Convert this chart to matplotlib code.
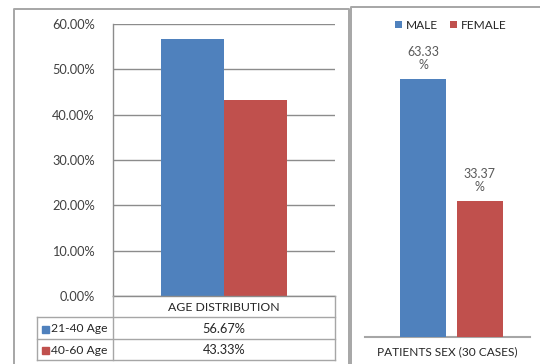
import matplotlib
matplotlib.use("Agg")
import matplotlib.pyplot as plt
from matplotlib.patches import Rectangle
from matplotlib.lines import Line2D
from matplotlib.ticker import FuncFormatter

plt.rcParams['font.family'] = ['Lato', 'DejaVu Sans']

# Age distribution data
age_groups = ["21-40 Age", "40-60 Age"]
age_values = [56.67, 43.33]
age_category = "AGE DISTRIBUTION"
age_ticks = [0, 10, 20, 30, 40, 50, 60]

# Patient sex data
sex_labels = ["MALE", "FEMALE"]
sex_values = [63.33, 33.37]
sex_category = "PATIENTS SEX (30 CASES)"

colors = ["#4F81BD", "#C0504D"]
text_col = "#404040"
grid_col = "#8C8C8C"
frame_col = "#A0A0A0"

W, H = 540, 364
fig = plt.figure(figsize=(W / 100, H / 100), dpi=100)


def fx(px):
    return px / W


def fy(py):
    return 1 - py / H


def box(x0, y0, x1, y1):
    return [fx(x0), fy(y1), fx(x1) - fx(x0), fy(y0) - fy(y1)]


def fig_line(xs, ys, color=frame_col, lw=1.0):
    fig.add_artist(Line2D([fx(x) for x in xs], [fy(y) for y in ys],
                          color=color, lw=lw, transform=fig.transFigure))


# Panel frames
fig_line([14, 14, 349, 349], [364, 9, 9, 364], color="#A6A6A6", lw=1.4)
fig_line([351, 351, 540], [364, 7, 7], color="#A6A6A6", lw=1.4)

# ---------------- Left chart: age distribution ----------------
ax1 = fig.add_axes(box(113, 24, 335, 296))
bw = 0.284
offs = [-bw / 2, bw / 2]
for v, c, o in zip(age_values, colors, offs):
    ax1.bar(o, v, width=bw, color=c, zorder=3)
ax1.set_xlim(-0.5, 0.5)
ax1.set_ylim(0, 60)
ax1.set_yticks(age_ticks)
ax1.yaxis.set_major_formatter(FuncFormatter(lambda v, p: f"{v:.2f}%"))
ax1.tick_params(axis='y', length=0, pad=13, labelsize=9.2, labelcolor=text_col)
ax1.set_xticks([])
ax1.grid(axis='y', color=grid_col, lw=1.0, zorder=0)
for s in ["top", "right", "bottom"]:
    ax1.spines[s].set_visible(False)
ax1.spines["left"].set_color(grid_col)
ax1.spines["left"].set_linewidth(1.0)

# Data table below the chart
tbl_col = "#A6A6A6"
x_lab, x_mid, x_end = 37, 113, 335
rows_y = [296, 317, 339, 360]
fig_line([x_mid, x_end], [rows_y[0], rows_y[0]], color=grid_col)
fig_line([x_end, x_end], [rows_y[0], rows_y[-1]], color=tbl_col)
fig_line([x_mid, x_mid], [rows_y[0], rows_y[-1]], color=tbl_col)
fig_line([x_lab, x_lab], [rows_y[1], rows_y[-1]], color=tbl_col)
fig_line([x_lab, x_end], [rows_y[1], rows_y[1]], color=tbl_col)
fig_line([x_lab, x_end], [rows_y[2], rows_y[2]], color=tbl_col)
fig_line([x_lab, x_end], [rows_y[3], rows_y[3]], color=tbl_col)

fig.text(fx((x_mid + x_end) / 2), fy((rows_y[0] + rows_y[1]) / 2 + 1), age_category,
         ha='center', va='center', fontsize=8.8, color="#262626")
for i, (lab, v, c) in enumerate(zip(age_groups, age_values, colors)):
    yc = (rows_y[i + 1] + rows_y[i + 2]) / 2 + 1
    fig.add_artist(Rectangle((fx(42), fy(yc + 3.5)), fx(7), fy(yc - 3.5) - fy(yc + 3.5),
                             color=c, transform=fig.transFigure))
    fig.text(fx(51), fy(yc), lab, ha='left', va='center', fontsize=8.7, color="#262626")
    fig.text(fx((x_mid + x_end) / 2), fy(yc), f"{v:.2f}%",
             ha='center', va='center', fontsize=9.2, color="#262626")

# ---------------- Right chart: patients sex ----------------
px_per_pct = 258 / 63.33
top_px = 20
ax2 = fig.add_axes(box(365, top_px, 530, 337))
bw2 = 46 / 165
offs2 = [-28.25 / 165, 28.25 / 165]
for lab, v, c, o in zip(sex_labels, sex_values, colors, offs2):
    ax2.bar(o, v, width=bw2, color=c, zorder=3, label=lab)
    ax2.text(o, v + 2.0, f"{v:.2f}\n%", ha='center', va='bottom',
             fontsize=9.0, color="#595959", linespacing=1.1)
ax2.set_xlim(-86.25 / 165, 78.75 / 165)
ax2.set_ylim(0, (337 - top_px) / px_per_pct)
ax2.set_xticks([])
ax2.set_yticks([])
for s in ["top", "right", "left"]:
    ax2.spines[s].set_visible(False)
ax2.spines["bottom"].set_color("#A6A6A6")
ax2.spines["bottom"].set_linewidth(1.5)
ax2.set_xlabel(sex_category, fontsize=8.6, color="#262626", labelpad=7)
ax2.legend(loc='upper center', bbox_to_anchor=(0.52, 1.035), ncol=2, frameon=False,
           fontsize=8.6, handlelength=0.6, handleheight=0.6, handletextpad=0.3,
           columnspacing=1.0, labelcolor="#262626")

fig.savefig("out.png", dpi=100, facecolor="white")
